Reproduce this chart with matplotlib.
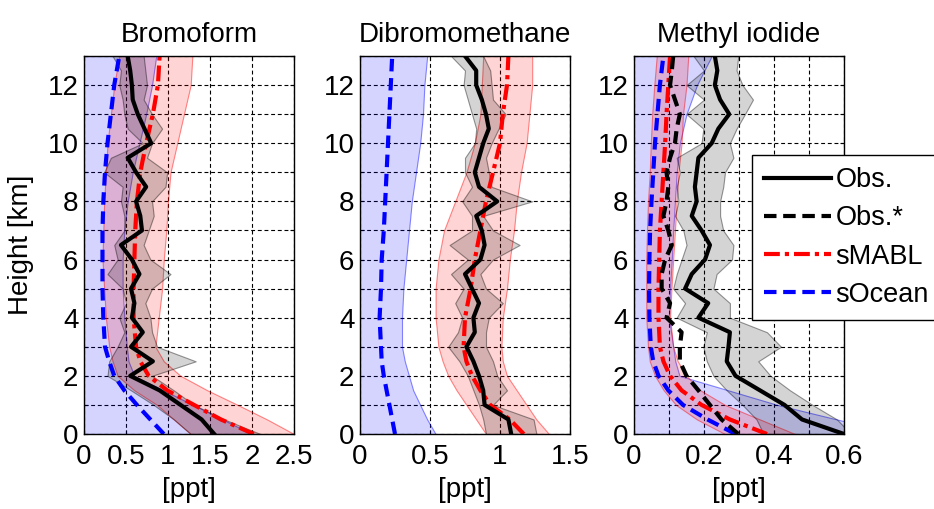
import numpy as np
import matplotlib
matplotlib.use("Agg")
import matplotlib.pyplot as plt

plt.rcParams['font.family'] = ['Liberation Sans', 'DejaVu Sans']
plt.rcParams['font.size'] = 20

# heights [km]
z_obs = np.arange(0, 13.01, 0.5)
z_mod = np.array([0, 0.5, 1, 1.5, 2, 2.5, 3, 4, 5, 6, 7, 8, 9, 10, 11, 12, 13])

titles = ["Bromoform", "Dibromomethane", "Methyl iodide"]

# --- Bromoform ---
bro_obs = [1.55, 1.40, 1.15, 0.90, 0.55, 0.82, 0.56, 0.70, 0.57, 0.60, 0.56, 0.66, 0.57, 0.44,
           0.69, 0.67, 0.62, 0.74, 0.62, 0.52, 0.80, 0.72, 0.64, 0.58, 0.57, 0.55, 0.52]
bro_obs_lo = [1.27, 1.07, 0.83, 0.56, 0.28, 0.30, 0.40, 0.48, 0.42, 0.50, 0.46, 0.28, 0.40, 0.36,
              0.48, 0.48, 0.44, 0.46, 0.24, 0.32, 0.70, 0.52, 0.48, 0.46, 0.42, 0.44, 0.34]
bro_obs_hi = [2.10, 1.67, 1.31, 1.07, 0.81, 1.33, 0.87, 0.81, 0.79, 0.73, 0.81, 1.03, 0.79, 0.71,
              0.77, 0.83, 0.81, 0.97, 0.99, 0.75, 0.81, 0.93, 0.81, 0.71, 0.75, 0.73, 0.71]
bro_mabl = [2.02, 1.63, 1.31, 0.99, 0.77, 0.67, 0.62, 0.59, 0.59, 0.60, 0.61, 0.63, 0.67, 0.74, 0.82, 0.88, 0.90]
bro_mabl_lo = [1.27, 1.07, 0.87, 0.60, 0.40, 0.34, 0.30, 0.26, 0.24, 0.22, 0.23, 0.24, 0.26, 0.28, 0.32, 0.36, 0.42]
bro_mabl_hi = [2.50, 2.18, 1.83, 1.47, 1.15, 0.95, 0.85, 0.89, 0.93, 0.95, 0.98, 1.00, 1.03, 1.11, 1.19, 1.27, 1.29]
bro_ocean = [0.95, 0.79, 0.63, 0.48, 0.36, 0.30, 0.25, 0.23, 0.22, 0.22, 0.22, 0.23, 0.25, 0.28, 0.32, 0.36, 0.42]
bro_ocean_hi = [2.00, 1.65, 1.30, 0.95, 0.60, 0.53, 0.51, 0.48, 0.46, 0.46, 0.48, 0.52, 0.58, 0.66, 0.74, 0.81, 0.86]

# --- Dibromomethane ---
dib_obs = [1.08, 1.06, 0.89, 0.88, 0.85, 0.81, 0.76, 0.82, 0.81, 0.85, 0.80, 0.75, 0.86, 0.89,
           0.87, 0.83, 0.98, 0.85, 0.82, 0.85, 0.88, 0.92, 0.90, 0.87, 0.83, 0.83, 0.75]
dib_obs_lo = [0.90, 0.88, 0.85, 0.81, 0.77, 0.71, 0.63, 0.70, 0.73, 0.68, 0.74, 0.65, 0.77, 0.64,
              0.80, 0.80, 0.73, 0.80, 0.75, 0.75, 0.82, 0.83, 0.80, 0.77, 0.74, 0.75, 0.65]
dib_obs_hi = [1.26, 1.24, 0.95, 1.05, 0.98, 0.95, 0.90, 0.90, 0.92, 1.02, 0.90, 0.86, 0.95, 1.14,
              0.95, 0.88, 1.23, 0.94, 0.92, 0.90, 0.94, 0.99, 1.04, 0.95, 0.94, 0.93, 0.88]
dib_mabl = [1.17, 1.07, 0.93, 0.86, 0.80, 0.76, 0.74, 0.75, 0.79, 0.82, 0.86, 0.90, 0.95, 1.00, 1.02, 1.05, 1.06]
dib_mabl_lo = [0.90, 0.83, 0.76, 0.69, 0.63, 0.59, 0.56, 0.54, 0.54, 0.56, 0.60, 0.68, 0.76, 0.82, 0.86, 0.87, 0.88]
dib_mabl_hi = [1.35, 1.26, 1.19, 1.12, 1.05, 1.02, 1.01, 1.02, 1.05, 1.07, 1.10, 1.12, 1.15, 1.19, 1.21, 1.23, 1.23]
dib_ocean = [0.25, 0.23, 0.21, 0.19, 0.17, 0.155, 0.15, 0.14, 0.15, 0.155, 0.17, 0.18, 0.19, 0.20, 0.21, 0.22, 0.23]
dib_ocean_hi = [0.54, 0.48, 0.43, 0.38, 0.35, 0.32, 0.30, 0.30, 0.31, 0.33, 0.35, 0.37, 0.40, 0.43, 0.45, 0.46, 0.48]

# --- Methyl iodide ---
mei_obs = [0.60, 0.48, 0.43, 0.36, 0.29, 0.265, 0.27, 0.274, 0.184, 0.212, 0.146, 0.165, 0.203, 0.217,
           0.193, 0.165, 0.179, 0.174, 0.179, 0.184, 0.222, 0.241, 0.272, 0.246, 0.231, 0.238, 0.231]
mei_obs_lo = [0.37, 0.35, 0.31, 0.265, 0.227, 0.208, 0.198, 0.208, 0.122, 0.146, 0.112, 0.122, 0.136, 0.15,
              0.141, 0.117, 0.127, 0.122, 0.131, 0.122, 0.193, 0.198, 0.15, 0.20, 0.15, 0.20, 0.17]
mei_obs_hi = [0.62, 0.58, 0.51, 0.446, 0.39, 0.355, 0.42, 0.38, 0.274, 0.274, 0.227, 0.236, 0.28, 0.284,
              0.255, 0.246, 0.246, 0.255, 0.26, 0.284, 0.274, 0.293, 0.317, 0.34, 0.31, 0.293, 0.298]
mei_obs_star = [0.298, 0.25, 0.217, 0.184, 0.15, 0.131, 0.131, 0.136, 0.093, 0.103, 0.079, 0.079, 0.089, 0.108,
                0.098, 0.084, 0.093, 0.098, 0.093, 0.103, 0.117, 0.122, 0.131, 0.117, 0.103, 0.108, 0.112]
mei_mabl = [0.38, 0.274, 0.193, 0.136, 0.103, 0.084, 0.074, 0.07, 0.07, 0.072, 0.074, 0.079, 0.084, 0.089, 0.093, 0.098, 0.103]
mei_mabl_lo = [0.26, 0.18, 0.12, 0.085, 0.06, 0.045, 0.04, 0.035, 0.035, 0.035, 0.037, 0.04, 0.045, 0.048, 0.052, 0.058, 0.065]
mei_mabl_hi = [0.46, 0.36, 0.26, 0.19, 0.15, 0.125, 0.112, 0.103, 0.107, 0.112, 0.117, 0.122, 0.127, 0.136, 0.14, 0.15, 0.155]
mei_ocean = [0.29, 0.21, 0.14, 0.098, 0.07, 0.055, 0.048, 0.044, 0.043, 0.044, 0.046, 0.05, 0.055, 0.06, 0.067, 0.074, 0.084]
mei_ocean_hi = [0.75, 0.58, 0.41, 0.27, 0.13, 0.118, 0.112, 0.10, 0.103, 0.108, 0.112, 0.117, 0.122, 0.131, 0.15, 0.18, 0.222]

xlims = [(0, 2.5), (0, 1.5), (0, 0.6)]
xticks = [[0, 0.5, 1, 1.5, 2, 2.5], [0, 0.5, 1, 1.5], [0, 0.1, 0.2, 0.3, 0.4, 0.5, 0.6]]
xticklabels = [["0", "0.5", "1", "1.5", "2", "2.5"], ["0", "0.5", "1", "1.5"],
               ["0", "", "0.2", "", "0.4", "", "0.6"]]
yticks = list(range(0, 14))
yticklabels = ["0", "", "2", "", "4", "", "6", "", "8", "", "10", "", "12", ""]

panels = [
    dict(obs=bro_obs, lo=bro_obs_lo, hi=bro_obs_hi, star=None,
         mabl=bro_mabl, mlo=bro_mabl_lo, mhi=bro_mabl_hi, ocean=bro_ocean, ohi=bro_ocean_hi),
    dict(obs=dib_obs, lo=dib_obs_lo, hi=dib_obs_hi, star=None,
         mabl=dib_mabl, mlo=dib_mabl_lo, mhi=dib_mabl_hi, ocean=dib_ocean, ohi=dib_ocean_hi),
    dict(obs=mei_obs, lo=mei_obs_lo, hi=mei_obs_hi, star=mei_obs_star,
         mabl=mei_mabl, mlo=mei_mabl_lo, mhi=mei_mabl_hi, ocean=mei_ocean, ohi=mei_ocean_hi),
]

fig = plt.figure(figsize=(9.34, 5.09), dpi=100)
lefts = [84 / 934, 360 / 934, 634 / 934]
axes = []
for i, p in enumerate(panels):
    ax = fig.add_axes([lefts[i], 1 - 434 / 509, 210 / 934, 378 / 509])
    axes.append(ax)

    # shaded ranges
    ax.fill_betweenx(z_mod, 0, p['ohi'], facecolor=(0, 0, 1, 0.17), edgecolor=(0, 0, 1, 0.45), lw=0.8)
    ax.fill_betweenx(z_mod, p['mlo'], p['mhi'], facecolor=(1, 0, 0, 0.17), edgecolor=(1, 0, 0, 0.45), lw=0.8)
    ax.fill_betweenx(z_obs, p['lo'], p['hi'], facecolor=(0, 0, 0, 0.17), edgecolor=(0, 0, 0, 0.4), lw=0.8)

    # profiles
    ax.plot(p['ocean'], z_mod, color='b', lw=3, dashes=(3, 1.6), label='sOcean')
    ax.plot(p['mabl'], z_mod, color='r', lw=3, dashes=(3.8, 1.2, 1, 1.2), label='sMABL')
    if p['star'] is not None:
        ax.plot(p['star'], z_obs, color='k', lw=3, dashes=(3, 1.6), label='Obs.*')
    ax.plot(p['obs'], z_obs, color='k', lw=3, label='Obs.')

    ax.set_xlim(*xlims[i])
    ax.set_ylim(0, 13)
    ax.set_xticks(xticks[i])
    ax.set_xticklabels(xticklabels[i])
    ax.set_yticks(yticks)
    ax.set_yticklabels(yticklabels)
    ax.tick_params(direction='in', length=3, width=0.8, top=True, right=True, pad=7)
    ax.tick_params(axis='y', pad=4)
    ax.grid(True, color='k', lw=0.8, linestyle=(0, (3.5, 2.5)))
    ax.set_axisbelow(True)
    for s in ax.spines.values():
        s.set_linewidth(1.0)
    ax.set_title(titles[i], fontsize=20, pad=10)
    ax.set_xlabel("[ppt]", labelpad=5)

axes[0].set_ylabel("Height [km]", labelpad=10)

# legend in the order of the reference
h, l = axes[2].get_legend_handles_labels()
order = ['Obs.', 'Obs.*', 'sMABL', 'sOcean']
handles = [h[l.index(k)] for k in order]
leg = axes[2].legend(handles, order, loc='upper left', bbox_to_anchor=(752 / 934, 1 - 155 / 509),
                     bbox_transform=fig.transFigure, fancybox=False, framealpha=1,
                     edgecolor='k', handlelength=2.45, handletextpad=0.18, labelspacing=0.45,
                     borderpad=0.45, borderaxespad=0, fontsize=19.5)
leg.get_frame().set_linewidth(1.0)

fig.savefig("out.png", dpi=100)
